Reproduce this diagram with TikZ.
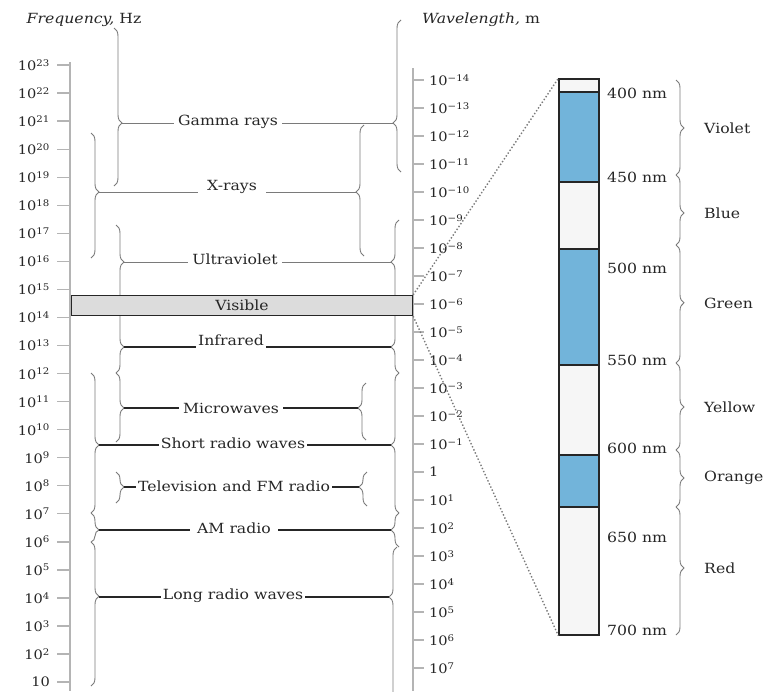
\documentclass[tikz,border=0pt]{standalone}
\usepackage{fontspec}
\setmainfont[FakeStretch=1.12]{DejaVu Serif}
\usepackage{xcolor}
\usetikzlibrary{positioning, decorations.pathreplacing, calc}
\definecolor{inkDark}{HTML}{262626}
\definecolor{inkGray}{HTML}{7A7A7A}
\definecolor{axisGray}{HTML}{B4B4B4}
\definecolor{visGray}{HTML}{DCDCDC}
\definecolor{barBlue}{HTML}{72B4DA}
\definecolor{barWhite}{HTML}{F6F6F6}
\newcommand{\freqlab}[1]{\ifnum#1=1 10\else 10\textsuperscript{#1}\fi}
\newcommand{\wavelab}[1]{\ifnum#1=0 1\else 10\textsuperscript{\ifnum#1<0 −\the\numexpr-#1\relax\else#1\fi}\fi}

\begin{document}
\begin{tikzpicture}[x=1pt, y=-1pt, every node/.style={font=\fontsize{14}{16}\selectfont, text=inkDark}]
    \tikzset{bandlabel/.style={inner sep=4pt},
      ticklab/.style={font=\fontsize{13}{15}\selectfont, inner sep=1pt},
      bracel/.style={decorate, decoration={brace, amplitude=8pt, aspect=#1}, draw=inkGray, line width=0.9pt},
      tickline/.style={draw=axisGray, line width=1.3pt},
      guide/.style={draw=inkGray, line width=0.9pt},
      solid line/.style={draw=inkDark, line width=1.2pt}}
    \useasboundingbox (0,0) rectangle (767,691);

    % axes
    \node[font=\fontsize{14}{16}\selectfont\itshape] (ftitle) at (84,20) {Frequency, \textup{Hz}};
    \node[font=\fontsize{14}{16}\selectfont\itshape] (wtitle) at (481,20) {Wavelength, \textup{m}};
    \draw[tickline] (70,62) -- (70,691);
    \draw[tickline] (413,68) -- (413,691);
    \foreach \i in {0,...,22} {
      \pgfmathsetmacro\yy{65+28.05*\i}
      \pgfmathtruncatemacro\ex{23-\i}
      \draw[tickline] (57,\yy) -- (70,\yy);
      \node[ticklab, anchor=east] (f\i) at (51,\yy) {\freqlab{\ex}};
    }
    \foreach \i in {0,...,21} {
      \pgfmathsetmacro\yy{80+28*\i}
      \pgfmathtruncatemacro\ex{\i-14}
      \draw[tickline] (413,\yy) -- (424,\yy);
      \node[ticklab, anchor=west] (w\i) at (428,\yy) {\wavelab{\ex}};
    }

    % braces, frequency side
    \draw[bracel=0.601] (114,28) -- (114,186);
    \draw[bracel=0.472] (91,133) -- (91,258);
    \draw[bracel=0.463] (116,225) -- (116,305);
    \draw[bracel=0.618] (116,305) -- (116,373);
    \draw[bracel=0.507] (116,373) -- (116,442);
    \draw[bracel=0.514] (91,373) -- (91,513);
    \draw[bracel=0.484] (116,472) -- (116,503);
    \draw[bracel=0.586] (91,513) -- (91,542);
    \draw[bracel=0.377] (91,542) -- (91,686);
    % braces, wavelength side
    \draw[bracel=0.322] (401,172) -- (401,20);
    \draw[bracel=0.489] (364,256) -- (364,125);
    \draw[bracel=0.506] (399,305) -- (399,220);
    \draw[bracel=0.382] (399,373) -- (399,305);
    \draw[bracel=0.561] (366,440) -- (366,383);
    \draw[bracel=0.486] (399,513) -- (399,373);
    \draw[bracel=0.559] (367,506) -- (367,472);
    \draw[bracel=0.500] (399,547) -- (399,513);
    \draw[bracel=0.673] (397,700) -- (397,547);

    % band names
    \node[bandlabel] (gam) at (228,121.5) {Gamma rays};
    \node[bandlabel, inner xsep=9pt] (xray) at (232,187) {X-rays};
    \node[bandlabel] (uv) at (235,259) {Ultraviolet};
    \node[bandlabel, inner xsep=2pt] (ir) at (231,340) {Infrared};
    \node[bandlabel] (mw) at (231,408) {Microwaves};
    \node[bandlabel, inner xsep=2pt] (srw) at (233,443) {Short radio waves};
    \node[bandlabel, inner xsep=2pt] (tv) at (234,486) {Television and FM radio};
    \node[bandlabel, inner xsep=7pt] (am) at (234,528) {AM radio};
    \node[bandlabel, inner xsep=2pt] (lrw) at (233,596) {Long radio waves};

    \coordinate (gamL) at (122,123); \coordinate (gamR) at (393,123);
    \coordinate (xrayL) at (99,192); \coordinate (xrayR) at (356,192);
    \coordinate (uvL) at (124,262); \coordinate (uvR) at (391,262);
    \coordinate (irL) at (124,347); \coordinate (irR) at (391,347);
    \coordinate (mwL) at (124,408); \coordinate (mwR) at (358,408);
    \coordinate (srwL) at (99,445); \coordinate (srwR) at (391,445);
    \coordinate (tvL) at (124,487); \coordinate (tvR) at (359,487);
    \coordinate (amL) at (99,530); \coordinate (amR) at (391,530);
    \coordinate (lrwL) at (99,597); \coordinate (lrwR) at (389,597);

    \draw[guide] (gamL) -- (gam.west |- gamL) (gam.east |- gamR) -- (gamR);
    \draw[guide] (xrayL) -- (xray.west |- xrayL) (xray.east |- xrayR) -- (xrayR);
    \draw[guide] (uvL) -- (uv.west |- uvL) (uv.east |- uvR) -- (uvR);
    \draw[solid line] (irL) -- (ir.west |- irL) (ir.east |- irR) -- (irR);
    \draw[solid line] (mwL) -- (mw.west |- mwL) (mw.east |- mwR) -- (mwR);
    \draw[solid line] (srwL) -- (srw.west |- srwL) (srw.east |- srwR) -- (srwR);
    \draw[solid line] (tvL) -- (tv.west |- tvL) (tv.east |- tvR) -- (tvR);
    \draw[solid line] (amL) -- (am.west |- amL) (am.east |- amR) -- (amR);
    \draw[solid line] (lrwL) -- (lrw.west |- lrwL) (lrw.east |- lrwR) -- (lrwR);

    % visible window and its colours
    \node[draw=inkDark, fill=visGray, line width=1.3pt, minimum width=341pt, minimum height=20pt, inner sep=0pt] (vis) at (242,305.5) {Visible};
    \foreach \ytop/\ybot/\col in {79/92/barWhite, 92/182/barBlue, 182/249/barWhite, 249/365/barBlue, 365/455/barWhite, 455/507/barBlue, 507/635/barWhite}
      \fill[\col] (559,\ytop) rectangle (599,\ybot);
    \foreach \yy in {92,182,249,365,455,507}
      \draw[inkDark, line width=1.1pt] (559,\yy) -- (599,\yy);
    \node[draw=inkDark, line width=1.3pt, minimum width=40pt, minimum height=556pt, inner sep=0pt] (bar) at (579,357) {};
    \draw[inkGray, dotted, line width=1.4pt] (vis.north east) -- (bar.north west);
    \draw[inkGray, dotted, line width=1.4pt] (vis.south east) -- (bar.south west);

    \foreach \nm/\yy in {400/93, 450/177, 500/268, 550/360, 600/448, 650/537, 700/630}
      \node[anchor=west, inner sep=1pt] (nm\nm) at (606,\yy) {\nm\ nm};
    \draw[bracel=0.505] (676,80) -- (676,175);
    \draw[bracel=0.543] (676,175) -- (676,245);
    \draw[bracel=0.490] (676,245) -- (676,363);
    \draw[bracel=0.506] (676,363) -- (676,450);
    \draw[bracel=0.491] (676,450) -- (676,507);
    \draw[bracel=0.477] (676,507) -- (676,635);
    \foreach \cname/\yy in {Violet/128, Blue/213, Green/303, Yellow/407, Orange/478, Red/568}
      \node[anchor=west, inner sep=1pt] (c\cname) at (703,\yy) {\cname};
  \end{tikzpicture}
\end{document}
